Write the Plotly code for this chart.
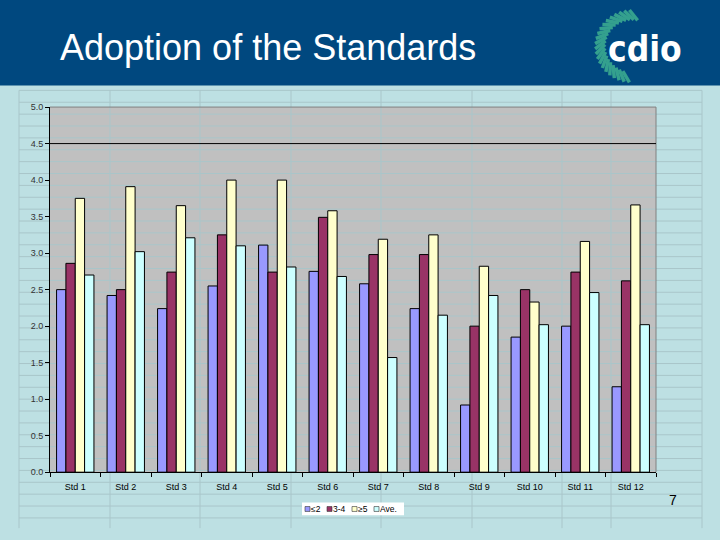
import math
import plotly.graph_objects as go

# ---- data ----
categories = ["Std 1", "Std 2", "Std 3", "Std 4", "Std 5", "Std 6",
              "Std 7", "Std 8", "Std 9", "Std 10", "Std 11", "Std 12"]
series_names = ["≤2", "3-4", "≥5", "Ave."]
vals_le2 = [2.50, 2.42, 2.24, 2.55, 3.11, 2.75, 2.58, 2.24, 0.92, 1.85, 2.00, 1.17]
vals_3_4 = [2.86, 2.50, 2.74, 3.25, 2.74, 3.49, 2.98, 2.98, 2.00, 2.50, 2.74, 2.62]
vals_ge5 = [3.75, 3.91, 3.65, 4.00, 4.00, 3.58, 3.19, 3.25, 2.82, 2.33, 3.16, 3.66]
vals_ave = [2.70, 3.02, 3.21, 3.10, 2.81, 2.68, 1.57, 2.15, 2.42, 2.02, 2.46, 2.02]
y_ticks = [0.0, 0.5, 1.0, 1.5, 2.0, 2.5, 3.0, 3.5, 4.0, 4.5, 5.0]
ref_line = 4.5
series_values = [vals_le2, vals_3_4, vals_ge5, vals_ave]
colors = ["#9999FF", "#993366", "#FFFFCC", "#CCFFFF"]

W, H = 720, 540
def px(x):
    return x / W
def py(y):
    return 1 - y / H

fig = go.Figure()
for name, vals, col in zip(series_names, series_values, colors):
    fig.add_trace(go.Bar(x=categories, y=vals, name=name,
                         marker=dict(color=col, line=dict(color="black", width=1)),
                         showlegend=False, hoverinfo="skip"))

shapes = []
# spreadsheet-like background grid
gy = 87.0
while gy <= 534:
    shapes.append(dict(type="line", xref="paper", yref="paper", layer="below",
                       x0=px(19), x1=px(702), y0=py(gy), y1=py(gy),
                       line=dict(color="#A9C6CA", width=1)))
    gy += 12.1
for gx in [19, 110, 200, 291, 381, 472, 562, 611, 702]:
    shapes.append(dict(type="line", xref="paper", yref="paper", layer="below",
                       x0=px(gx), x1=px(gx), y0=py(87), y1=py(533),
                       line=dict(color="#A9C6CA", width=1)))
# header band
shapes.append(dict(type="rect", xref="paper", yref="paper", layer="below",
                   x0=-0.02, x1=1.02, y0=py(82), y1=1.05, fillcolor="#00487F",
                   line=dict(width=0)))
# logo arc of dashes
cx, cy = 632, 42
n = 22
for i in range(n):
    a = math.radians(86 + i * (172 / (n - 1)))
    r0, r1 = 27, 37
    tw = math.radians(8)
    x0 = cx + r0 * math.cos(a - tw)
    y0 = cy - r0 * math.sin(a - tw)
    x1 = cx + r1 * math.cos(a + tw)
    y1 = cy - r1 * math.sin(a + tw)
    shapes.append(dict(type="line", xref="paper", yref="paper", layer="above",
                       x0=px(x0), x1=px(x1), y0=py(y0), y1=py(y1),
                       line=dict(color="#34A08E", width=3.5)))
# plot frame top/right (gray)
shapes.append(dict(type="line", xref="paper", yref="paper",
                   x0=px(50), x1=px(656), y0=py(104), y1=py(104),
                   line=dict(color="#808080", width=1)))
shapes.append(dict(type="line", xref="paper", yref="paper",
                   x0=px(656), x1=px(656), y0=py(104), y1=py(476),
                   line=dict(color="#808080", width=1)))
# reference line at 4.5
shapes.append(dict(type="line", xref="paper", yref="y",
                   x0=px(50), x1=px(656), y0=ref_line, y1=ref_line,
                   line=dict(color="black", width=1)))

# legend box (manual, compact like Excel)
lx0, lx1, ly0, ly1 = 302, 404, 507, 520
shapes.append(dict(type="rect", xref="paper", yref="paper",
                   x0=px(lx0), x1=px(lx1), y0=py(ly1), y1=py(ly0),
                   fillcolor="white", line=dict(width=0)))
annotations = []
item_x = [305, 327, 352, 374]
for xx, name, col in zip(item_x, series_names, colors):
    shapes.append(dict(type="rect", xref="paper", yref="paper",
                       x0=px(xx), x1=px(xx + 5), y0=py(516), y1=py(511),
                       fillcolor=col, line=dict(color="#333333", width=0.6)))
    annotations.append(dict(text=name, xref="paper", yref="paper",
                            x=px(xx + 5), y=py(513.5), xanchor="left", yanchor="middle",
                            showarrow=False, borderpad=0,
                            font=dict(family="Liberation Sans, Arial", size=8.5, color="black")))

annotations.append(dict(text="Adoption of the Standards", xref="paper", yref="paper",
                        x=px(58), y=py(43), xanchor="left", yanchor="middle",
                        showarrow=False,
                        font=dict(family="Liberation Sans, Arial", size=36, color="white")))
annotations.append(dict(text="<b>cdio</b>", xref="paper", yref="paper",
                        x=px(645), y=py(45), xanchor="center", yanchor="middle",
                        showarrow=False,
                        font=dict(family="Liberation Sans Narrow, Arial Narrow, DejaVu Sans Condensed, Liberation Sans",
                                  size=35, color="white")))
annotations.append(dict(text="7", xref="paper", yref="paper",
                        x=px(673), y=py(504), xanchor="center", yanchor="middle",
                        showarrow=False,
                        font=dict(family="Liberation Sans, Arial", size=14, color="black")))

fig.update_layout(
    width=W, height=H,
    margin=dict(l=0, r=0, t=0, b=0),
    paper_bgcolor="#BDE0E3",
    plot_bgcolor="#C0C0C0",
    barmode="group", bargap=0.26, bargroupgap=0,
    shapes=shapes, annotations=annotations,
    showlegend=False,
    xaxis=dict(domain=[px(50), px(656)], type="category",
               showline=True, linecolor="black", linewidth=1,
               ticks="outside", tickson="boundaries", ticklen=4, tickcolor="black",
               ticklabelstandoff=6,
               showgrid=False, zeroline=False,
               tickfont=dict(family="Liberation Sans, Arial", size=9, color="black")),
    yaxis=dict(domain=[py(476), py(104)], range=[0, 5],
               tickvals=y_ticks, tickformat=".1f",
               showline=True, linecolor="black", linewidth=1,
               ticks="outside", ticklen=4, tickcolor="black",
               showgrid=False, zeroline=False,
               tickfont=dict(family="Liberation Sans, Arial", size=9, color="#333333")),
)

post = ("document.body.style.margin='0';document.body.style.padding='0';"
        "var g=document.getElementById('{plot_id}');"
        "g.style.position='absolute';g.style.top='0px';g.style.left='0px';")
fig.write_html("out.html", config={"displayModeBar": False}, post_script=post)
